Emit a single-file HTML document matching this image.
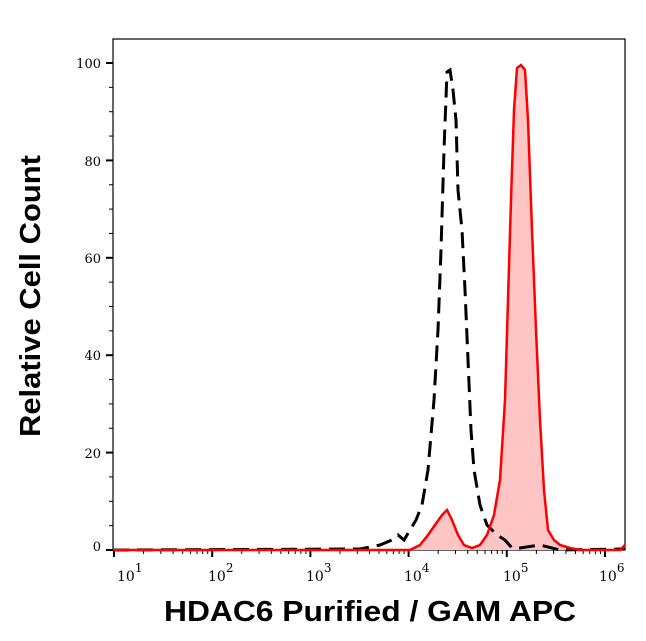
<!DOCTYPE html>
<html><head><meta charset="utf-8"><style>
html,body{margin:0;padding:0;background:#fff;}
svg{display:block}
</style></head><body>
<svg id="s" width="646" height="641" xmlns="http://www.w3.org/2000/svg">
<rect x="113" y="39" width="512" height="511" fill="none" stroke="#000" stroke-width="1.2"/>
<g id="ticks" stroke="#000"></g>
<polygon fill="#ffc4c4" points="113,550 410,550 420,545 428,535 435,525 442,515 447,510 452,520 458,535 464,545 472,548 480,545 487,535 494,515 500,480 505,400 508,300 511,200 514,110 517,68 521,65 525,70 528,120 532,230 536,330 540,420 544,490 548,530 554,540 560,545 570,548 580,550 620,550 625,545 625,550"/>
<polyline fill="none" stroke="#000" stroke-width="3" stroke-dasharray="16,8" points="113,550 360,549 380,545 392,540 398,535 404,540 410,530 416,520 422,505 428,470 434,400 438,330 441,250 444,150 447,72 450,70 453,90 456,120 458,190 462,230 465,290 468,360 471,430 474,470 480,505 487,525 492,530 497,535 505,540 512,548 520,548 540,545 560,550 625,549"/>
<polyline fill="none" stroke="#f00" stroke-width="2.5" points="113,550 410,550 420,545 428,535 435,525 442,515 447,510 452,520 458,535 464,545 472,548 480,545 487,535 494,515 500,480 505,400 508,300 511,200 514,110 517,68 521,65 525,70 528,120 532,230 536,330 540,420 544,490 548,530 554,540 560,545 570,548 580,550 620,550 625,545"/>
<g font-family="DejaVu Serif, Liberation Serif, serif" font-size="13" text-anchor="end">
<text x="101" y="68">100</text><text x="101" y="166">80</text><text x="101" y="263">60</text><text x="101" y="360">40</text><text x="101" y="458">20</text><text x="101" y="551">0</text>
</g>
<g font-family="DejaVu Serif, Liberation Serif, serif" font-size="14">
<text x="117" y="581">10<tspan dy="-9" font-size="12">1</tspan></text>
<text x="208" y="581">10<tspan dy="-9" font-size="12">2</tspan></text>
<text x="306" y="581">10<tspan dy="-9" font-size="12">3</tspan></text>
<text x="404" y="581">10<tspan dy="-9" font-size="12">4</tspan></text>
<text x="503" y="581">10<tspan dy="-9" font-size="12">5</tspan></text>
<text x="599" y="581">10<tspan dy="-9" font-size="12">6</tspan></text>
</g>
<text x="370" y="621" text-anchor="middle" font-family="Liberation Sans, sans-serif" font-weight="bold" font-size="29" textLength="412" lengthAdjust="spacingAndGlyphs">HDAC6 Purified / GAM APC</text>
<text transform="translate(40,296) rotate(-90)" text-anchor="middle" font-family="Liberation Sans, sans-serif" font-weight="bold" font-size="29" textLength="282" lengthAdjust="spacingAndGlyphs">Relative Cell Count</text>
</svg>
<script>
var g=document.getElementById('ticks'),h='';
for(var v=0;v<=100;v+=5){var y=550-v*4.87;var L=v%20==0?7:4;h+='<line x1="'+(113-L)+'" y1="'+y+'" x2="113" y2="'+y+'" stroke-width="'+(v%20==0?2:1)+'"/>';}
for(var d=0;d<6;d++){for(var k=1;k<10;k++){var x=114+98.2*(d+Math.log10(k));if(x>625)break;var L=k==1?7:4;h+='<line x1="'+x+'" y1="550" x2="'+x+'" y2="'+(550+L)+'" stroke-width="'+(k==1?2:1)+'"/>';}}
var x=114+98.2*5;h+='<line x1="'+x+'" y1="550" x2="'+x+'" y2="557" stroke-width="2"/>';
g.innerHTML=h;
</script>
</body></html>
